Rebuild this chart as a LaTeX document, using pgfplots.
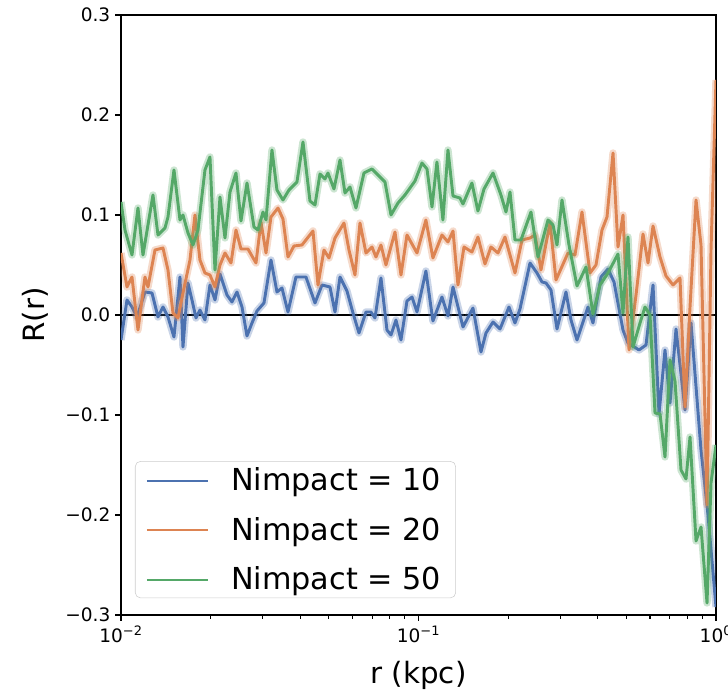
\documentclass[border=0pt]{standalone}
\usepackage{pgfplots}
\pgfplotsset{compat=1.18}
\usepackage{pgfplotstable}
\usepackage{fontspec}
\setmainfont{DejaVu Sans}
\definecolor{sbblue}{HTML}{4C72B0}
\definecolor{sborange}{HTML}{DD8452}
\definecolor{sbgreen}{HTML}{55A868}
\pgfplotsset{legend image code/.code={\draw[#1, line width=1.4pt] (0pt,-0.5pt) -- (46pt,-0.5pt);}}

% px = horizontal position (log scale, 121 -> 0.01, 716 -> 1), y = R(r)
\pgfplotstableread{
px y
121 -0.025
127 0.015
132 0.008
137 -0.002
145 0.023
152 0.022
158 -0.002
163 0.008
168 -0.002
174 -0.022
180 0.038
183 -0.032
188 0.032
192 0.015
196 -0.003
200 0.005
205 -0.005
210 0.030
215 0.015
220 0.041
227 0.020
232 0.013
237 0.023
242 0.008
247 -0.021
252 -0.008
257 0.004
264 0.012
271 0.055
277 0.023
282 0.027
288 0.003
296 0.038
306 0.038
315 0.012
322 0.030
330 0.028
335 0.003
340 0.038
347 0.024
353 0.002
359 -0.018
366 0.003
371 0.003
375 -0.003
381 0.037
387 -0.015
391 -0.020
396 -0.005
401 -0.025
407 0.014
412 0.018
417 0.003
426 0.044
433 -0.006
442 0.018
448 -0.001
453 0.028
463 -0.012
473 0.007
481 -0.037
486 -0.018
493 -0.007
500 -0.014
509 0.008
515 -0.008
520 0.006
530 0.052
537 0.042
542 0.033
546 0.032
551 0.025
557 -0.014
566 0.023
571 -0.005
577 -0.025
588 0.008
593 -0.008
601 0.038
608 0.046
614 0.033
623 -0.015
628 -0.028
639 -0.035
646 -0.030
653 0.030
659 -0.099
665 -0.035
670 -0.088
676 -0.014
685 -0.095
691 -0.008
701 -0.135
708 -0.200
716 -0.292
}\datablue

\pgfplotstableread{
px y
121 0.062
127 0.028
132 0.038
138 -0.015
145 0.038
148 0.028
155 0.065
163 0.067
168 0.045
173 0.002
178 -0.003
183 0.022
190 0.055
195 0.100
200 0.055
205 0.042
210 0.040
215 0.028
220 0.050
225 0.062
231 0.052
236 0.085
241 0.066
248 0.066
256 0.052
261 0.093
266 0.062
271 0.098
278 0.107
283 0.096
288 0.058
294 0.069
302 0.070
313 0.084
318 0.030
324 0.065
329 0.057
335 0.077
344 0.092
349 0.065
355 0.040
360 0.092
366 0.062
372 0.068
376 0.058
381 0.070
386 0.050
395 0.083
401 0.040
407 0.080
417 0.062
426 0.095
433 0.057
442 0.080
448 0.073
453 0.084
458 0.030
464 0.068
472 0.063
478 0.078
485 0.051
491 0.068
498 0.062
505 0.078
515 0.042
522 0.075
530 0.077
535 0.080
541 0.045
550 0.092
556 0.035
568 0.062
575 0.060
582 0.103
590 0.042
596 0.050
602 0.085
607 0.098
613 0.162
618 0.068
623 0.100
629 -0.035
636 0.020
643 0.081
648 0.052
653 0.089
660 0.058
666 0.039
673 0.030
680 0.037
685 -0.092
690 0.008
696 0.115
701 0.070
707 -0.190
711 0.065
716 0.235
}\dataorange

\pgfplotstableread{
px y
121 0.113
125 0.085
132 0.060
138 0.107
143 0.060
153 0.120
158 0.080
165 0.087
168 0.098
174 0.145
180 0.095
183 0.100
188 0.082
193 0.070
198 0.085
205 0.145
210 0.158
215 0.045
220 0.118
225 0.077
230 0.123
236 0.142
241 0.094
247 0.132
254 0.088
258 0.085
263 0.103
266 0.095
272 0.165
277 0.125
283 0.115
289 0.125
297 0.133
303 0.173
310 0.114
315 0.110
320 0.141
325 0.136
328 0.142
334 0.126
340 0.155
345 0.122
350 0.128
356 0.107
364 0.142
372 0.146
378 0.140
385 0.133
391 0.100
398 0.112
405 0.120
415 0.134
422 0.152
427 0.146
432 0.108
437 0.153
443 0.095
448 0.165
453 0.119
460 0.117
463 0.111
472 0.132
478 0.104
484 0.126
493 0.142
501 0.120
506 0.103
510 0.123
515 0.075
521 0.075
531 0.103
538 0.058
548 0.095
553 0.090
557 0.070
562 0.115
569 0.070
577 0.029
586 0.048
593 0.001
600 0.030
608 0.042
618 0.061
623 0.002
628 0.078
633 -0.032
640 -0.008
645 0.008
650 0.000
655 -0.098
660 -0.099
665 -0.142
670 -0.045
675 -0.066
681 -0.155
686 -0.164
690 -0.122
696 -0.226
701 -0.212
707 -0.288
711 -0.168
716 -0.130
}\datagreen

\begin{document}
\begin{tikzpicture}
\useasboundingbox (-90.75pt,-57pt) rectangle (455.25pt,461.25pt);
\clip (-90.75pt,-57pt) rectangle (455.25pt,461.25pt);
\begin{axis}[
  at={(0pt,0pt)}, anchor=south west,
  width=446.25pt, height=450pt, scale only axis,
  xmode=log, xmin=0.01, xmax=1, ymin=-0.3, ymax=0.3,
  ytick={-0.3,-0.2,-0.1,0,0.1,0.2,0.3},
  yticklabels={−0.3,−0.2,−0.1,0.0,0.1,0.2,0.3},
  xtick={0.01,0.1,1},
  xticklabels={10\textsuperscript{−2},10\textsuperscript{−1},10\textsuperscript{0}},
  minor xtick={0.02,0.03,0.04,0.05,0.06,0.07,0.08,0.09,0.2,0.3,0.4,0.5,0.6,0.7,0.8,0.9},
  tick align=outside, xtick pos=left, ytick pos=left,
  major tick length=4.5pt, minor tick length=3pt,
  tick style={black, line width=0.8pt},
  axis line style={line width=1pt},
  tick label style={font=\fontsize{13.9}{16}\selectfont},
  label style={font=\fontsize{22}{26}\selectfont},
  xlabel={r (kpc)}, ylabel={R(r)},
  xlabel style={at={(axis description cs:0.5,-0.115)}, anchor=base},
  ylabel style={at={(axis description cs:-0.128,0.5)}, anchor=base},
  legend cell align=left,
  legend style={at={(axis description cs:0.0235,0.028)}, anchor=south west,
    draw=black!20, rounded corners=4pt, fill=white, fill opacity=0.8, text opacity=1,
    font=\fontsize{22.7}{27}\selectfont,
    inner xsep=8pt, inner ysep=2.6pt, row sep=14.5pt, column sep=16.5pt,
    nodes={inner xsep=0pt, inner ysep=2pt}},
  every axis plot/.append style={line join=round},
]
\addplot[forget plot, black, line width=1.8pt] coordinates {(0.01,0) (1,0)};

\addplot[forget plot, sbblue, opacity=0.3, line width=5.5pt] table[x expr={10^(-2+(\thisrow{px}-121)/297.5)}, y=y]{\datablue};
\addplot[sbblue, line width=2.2pt] table[x expr={10^(-2+(\thisrow{px}-121)/297.5)}, y=y]{\datablue};
\addlegendentry{Nimpact = 10\kern3pt}

\addplot[forget plot, sborange, opacity=0.3, line width=5.5pt] table[x expr={10^(-2+(\thisrow{px}-121)/297.5)}, y=y]{\dataorange};
\addplot[sborange, line width=2.2pt] table[x expr={10^(-2+(\thisrow{px}-121)/297.5)}, y=y]{\dataorange};
\addlegendentry{Nimpact = 20\kern3pt}

\addplot[forget plot, sbgreen, opacity=0.3, line width=5.5pt] table[x expr={10^(-2+(\thisrow{px}-121)/297.5)}, y=y]{\datagreen};
\addplot[sbgreen, line width=2.2pt] table[x expr={10^(-2+(\thisrow{px}-121)/297.5)}, y=y]{\datagreen};
\addlegendentry{Nimpact = 50\kern3pt}
\end{axis}
\end{tikzpicture}
\end{document}
